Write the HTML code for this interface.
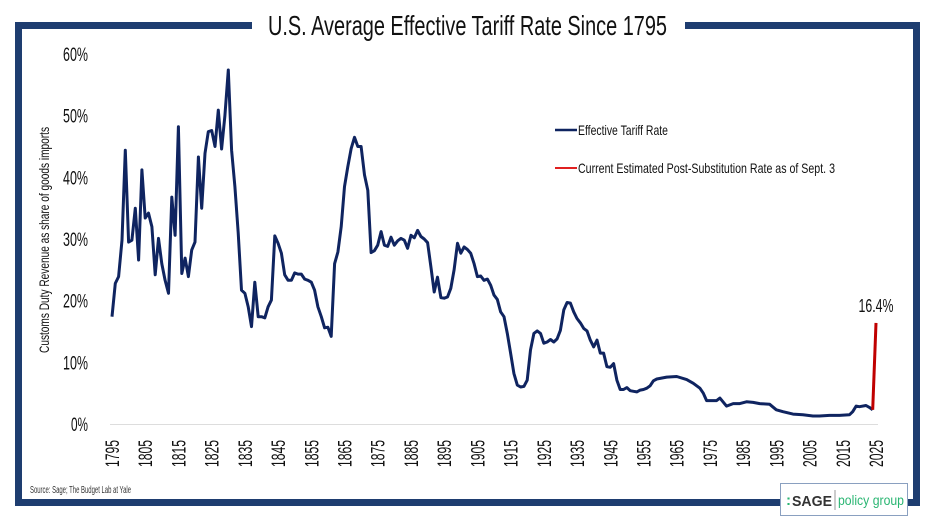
<!DOCTYPE html>
<html><head><meta charset="utf-8"><style>
html,body{margin:0;padding:0;background:#fff}
svg{display:block;font-family:"Liberation Sans Narrow","Liberation Sans",sans-serif}
</style></head><body>
<svg id="chart" width="936" height="526" viewBox="0 0 936 526">
<rect x="0" y="0" width="936" height="526" fill="#fff"/>
<rect x="18.5" y="25.5" width="898" height="477" fill="none" stroke="#1e3d70" stroke-width="7"/>
<rect x="252" y="10" width="433" height="30" fill="#fff"/>
<text x="268" y="35" font-size="28" textLength="399" lengthAdjust="spacingAndGlyphs" fill="#111">U.S. Average Effective Tariff Rate Since 1795</text>
<text transform="translate(49,240) rotate(-90)" text-anchor="middle" font-size="14" textLength="226" lengthAdjust="spacingAndGlyphs" fill="#111">Customs Duty Revenue as share of goods imports</text>
<g id="yticks"></g>
<g id="xticks"></g>
<line x1="110" y1="424.5" x2="878" y2="424.5" stroke="#ddd" stroke-width="1"/>
<path id="mainLine" fill="none" stroke="#0f2460" stroke-width="3" stroke-linejoin="round"/>
<path id="redLine" fill="none" stroke="#c00000" stroke-width="3"/>
<text id="redLabel" text-anchor="middle" font-size="18" textLength="35" lengthAdjust="spacingAndGlyphs" fill="#111"></text>
<g>
<line x1="555" y1="130" x2="577" y2="130" stroke="#0f2460" stroke-width="2.5"/>
<text x="578" y="135" font-size="14" textLength="90" lengthAdjust="spacingAndGlyphs" fill="#111">Effective Tariff Rate</text>
<line x1="555" y1="168" x2="577" y2="168" stroke="#e02020" stroke-width="2"/>
<text x="578" y="173" font-size="14" textLength="257" lengthAdjust="spacingAndGlyphs" fill="#111">Current Estimated Post-Substitution Rate as of Sept. 3</text>
</g>
<text x="30" y="493" font-size="10" textLength="101" lengthAdjust="spacingAndGlyphs" fill="#333">Source: Sage; The Budget Lab at Yale</text>
<g>
<rect x="780.5" y="483.5" width="127" height="32" fill="#fff" stroke="#8aa0c0" stroke-width="1"/>
<text x="786" y="505" font-family="Liberation Sans" font-weight="bold" font-size="15" fill="#2bb673">:</text>
<text x="792" y="506" font-family="Liberation Sans" font-weight="bold" font-size="15" textLength="40" lengthAdjust="spacingAndGlyphs" fill="#333">SAGE</text>
<line x1="835" y1="490" x2="835" y2="510" stroke="#999" stroke-width="1"/>
<text x="838" y="505" font-family="Liberation Sans" font-size="14" textLength="66" lengthAdjust="spacingAndGlyphs" fill="#2bb673">policy group</text>
</g>
</svg>
<script>
const years = [1795,1796,1797,1798,1799,1800,1801,1802,1803,1804,1805,1806,1807,1808,1809,1810,1811,1812,1813,1814,1815,1816,1817,1818,1819,1820,1821,1822,1823,1824,1825,1826,1827,1828,1829,1830,1831,1832,1833,1834,1835,1836,1837,1838,1839,1840,1841,1842,1843,1844,1845,1846,1847,1848,1849,1850,1851,1852,1853,1854,1855,1856,1857,1858,1859,1860,1861,1862,1863,1864,1865,1866,1867,1868,1869,1870,1871,1872,1873,1874,1875,1876,1877,1878,1879,1880,1881,1882,1883,1884,1885,1886,1887,1888,1889,1890,1891,1892,1893,1894,1895,1896,1897,1898,1899,1900,1901,1902,1903,1904,1905,1906,1907,1908,1909,1910,1911,1912,1913,1914,1915,1916,1917,1918,1919,1920,1921,1922,1923,1924,1925,1926,1927,1928,1929,1930,1931,1932,1933,1934,1935,1936,1937,1938,1939,1940,1941,1942,1943,1944,1945,1946,1947,1948,1949,1950,1951,1952,1953,1954,1955,1956,1957,1958,1959,1960,1962,1965,1968,1970,1972,1973,1974,1975,1977,1978,1980,1982,1984,1986,1988,1990,1993,1995,1997,2000,2003,2006,2008,2011,2014,2017,2018,2019,2020,2022,2023,2024];
const rates = [17.4,22.8,23.9,29.8,44.4,29.5,29.8,35,26.6,41.2,33.4,34.2,32,24.2,30.1,26,23.3,21.2,36.8,30.6,48.2,24.4,26.9,23.9,28.2,29.5,43.3,35,43.9,47.4,47.6,45,50.9,44.6,50,57.4,44.4,38.5,31,21.7,21.2,19,15.8,23,17.4,17.4,17.2,19,20.1,30.5,29.3,27.7,24.2,23.3,23.3,24.5,24.3,24.3,23.5,23.3,23,21.7,19,17.4,15.6,15.7,14.2,26,27.9,32,38.5,41.7,44.7,46.5,45,45,40.4,37.9,27.8,28.1,29,31.2,29,28.8,30.3,29,29.7,30.1,29.8,28.5,30.6,30.2,31.4,30.4,30,29.4,25.5,21.4,23.8,20.5,20.4,20.6,22,25,29.3,27.7,28.7,28.3,27.7,26,23.9,24,23.3,23.5,22.5,20.9,20.2,18.2,17.4,14.7,11.5,8.2,6.3,6,6.1,7.1,12,14.7,15.1,14.7,13.1,13.3,13.7,13.3,13.8,15.2,18.5,19.7,19.6,18.2,17.1,16.4,15.5,15.1,13.6,12.5,13.6,11.5,11.5,9.3,9.2,9.8,7.1,5.6,5.6,5.9,5.4,5.3,5.2,5.5,5.6,5.8,6.2,7,7.3,7.4,7.6,7.7,7.2,6.6,5.8,5,3.8,3.8,3.8,4.2,2.9,3.3,3.3,3.6,3.5,3.3,3.2,2.3,2,1.6,1.5,1.3,1.3,1.4,1.4,1.5,2,2.9,2.8,3,2.7,2.3];
const currentYears = [2024,2025];
const currentRates = [2.3,16.4];
const yTickValues = [0,10,20,30,40,50,60];
const yTickLabels = ["0%","10%","20%","30%","40%","50%","60%"];
const xTickYears = [1795,1805,1815,1825,1835,1845,1855,1865,1875,1885,1895,1905,1915,1925,1935,1945,1955,1965,1975,1985,1995,2005,2015,2025];

const NS = "http://www.w3.org/2000/svg";
const X0 = 112, X1 = 876, Y0 = 424, Y1 = 54;
function xScale(yr){ return X0 + (yr - 1795) / (2025 - 1795) * (X1 - X0); }
function yScale(v){ return Y0 - v / 60 * (Y0 - Y1); }

const yt = document.getElementById('yticks');
yTickValues.forEach((v,i)=>{
  const t = document.createElementNS(NS,'text');
  t.setAttribute('x', 88);
  t.setAttribute('y', yScale(v) + 7);
  t.setAttribute('text-anchor','end');
  t.setAttribute('font-size','19');
  t.setAttribute('textLength', yTickLabels[i].length === 2 ? '17' : '25');
  t.setAttribute('lengthAdjust','spacingAndGlyphs');
  t.setAttribute('fill','#111');
  t.textContent = yTickLabels[i];
  
  
  yt.appendChild(t);
});
const xt = document.getElementById('xticks');
xTickYears.forEach(yr=>{
  const t = document.createElementNS(NS,'text');
  const x = xScale(yr) + 7;
  t.setAttribute('transform', 'translate(' + x + ',467) rotate(-90)');
  t.setAttribute('font-size','19');
  t.setAttribute('textLength','27');
  t.setAttribute('lengthAdjust','spacingAndGlyphs');
  t.setAttribute('fill','#111');
  t.textContent = String(yr);
  
  
  xt.appendChild(t);
});
function pathFor(xs, vs){
  return xs.map((yr,i)=>(i?'L':'M') + xScale(yr).toFixed(1) + ',' + yScale(vs[i]).toFixed(1)).join(' ');
}
document.getElementById('mainLine').setAttribute('d', pathFor(years, rates));
document.getElementById('redLine').setAttribute('d', pathFor(currentYears, currentRates));
const lbl = document.getElementById('redLabel');
const last = currentRates.length - 1;
lbl.setAttribute('x', xScale(currentYears[last]));
lbl.setAttribute('y', yScale(currentRates[last]) - 11);
lbl.textContent = currentRates[last].toFixed(1) + '%';
</script>
</body></html>
